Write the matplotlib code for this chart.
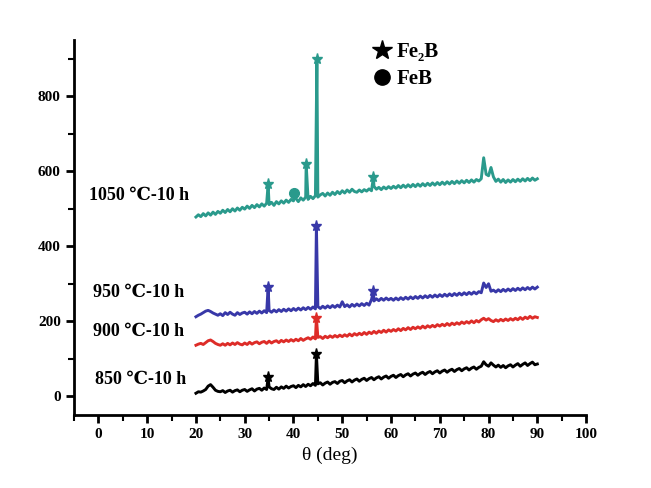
import numpy as np
import matplotlib
matplotlib.use("Agg")
import matplotlib.pyplot as plt
from matplotlib.lines import Line2D

# ── data ─────────────────────────────────────────────────────
THETA = np.arange(20.0, 90.01, 0.5)          # 2-theta sampling grid

Y_850 = [8, 12, 11, 14, 18, 27, 31, 24, 16, 13,
         12, 15, 10, 14, 16, 11, 15, 17, 12, 16,
         18, 13, 17, 20, 14, 19, 21, 16, 22, 18,
         25, 20, 18, 24, 19, 25, 21, 27, 22, 26,
         28, 23, 29, 25, 31, 26, 32, 28, 34, 29,
         33, 36, 30, 35, 38, 32, 37, 39, 34, 40,
         42, 36, 41, 44, 38, 43, 46, 40, 45, 48,
         42, 47, 50, 44, 49, 52, 46, 51, 54, 48,
         53, 56, 50, 55, 58, 52, 57, 60, 54, 59,
         62, 56, 61, 64, 58, 63, 66, 60, 65, 68,
         62, 67, 70, 64, 69, 72, 66, 71, 74, 68,
         73, 76, 70, 75, 78, 72, 77, 80, 92, 84,
         80, 89, 83, 78, 83, 77, 82, 76, 81, 84,
         78, 83, 87, 80, 85, 89, 82, 87, 91, 84,
         86]
Y_900 = [136, 139, 141, 138, 143, 148, 150, 146, 141, 138,
         136, 140, 136, 141, 137, 142, 138, 143, 139, 137,
         142, 138, 144, 139, 143, 145, 140, 144, 146, 141,
         147, 142, 146, 148, 143, 149, 145, 150, 146, 151,
         147, 152, 148, 154, 149, 153, 156, 152, 158, 153,
         157, 159, 154, 160, 156, 161, 157, 162, 158, 163,
         159, 164, 160, 166, 161, 167, 163, 168, 164, 170,
         165, 171, 167, 173, 168, 174, 170, 176, 171, 177,
         173, 178, 174, 180, 175, 181, 177, 183, 178, 184,
         180, 185, 181, 187, 182, 188, 184, 189, 185, 191,
         187, 192, 188, 194, 189, 195, 191, 196, 192, 198,
         194, 199, 195, 201, 196, 202, 198, 204, 208, 203,
         207, 202, 199, 204, 200, 205, 201, 206, 202, 207,
         203, 208, 204, 210, 205, 211, 207, 213, 208, 212,
         210]
Y_950 = [212, 216, 219, 223, 227, 229, 226, 222, 219, 216,
         220, 215, 223, 218, 224, 219, 216, 223, 218, 222,
         224, 219, 225, 220, 226, 221, 227, 222, 228, 223,
         229, 224, 230, 225, 231, 226, 232, 227, 233, 228,
         234, 229, 235, 230, 236, 231, 237, 232, 238, 233,
         239, 234, 240, 235, 241, 236, 242, 237, 243, 238,
         252, 239, 244, 238, 245, 240, 246, 241, 247, 242,
         248, 243, 258, 254, 260, 255, 261, 256, 262, 257,
         261, 256, 262, 257, 263, 258, 264, 259, 265, 260,
         266, 261, 267, 262, 268, 263, 269, 264, 270, 265,
         271, 266, 272, 267, 273, 268, 274, 269, 275, 270,
         276, 271, 277, 272, 278, 273, 279, 276, 302, 290,
         300, 280, 283, 278, 284, 279, 285, 280, 286, 281,
         287, 282, 288, 283, 289, 284, 290, 285, 291, 286,
         291]
Y_1050 = [478, 484, 479, 487, 481, 489, 483, 491, 485, 493,
          488, 496, 490, 498, 492, 500, 494, 502, 496, 504,
          499, 507, 501, 509, 503, 511, 505, 513, 507, 515,
          511, 517, 509, 519, 513, 521, 515, 523, 517, 525,
          521, 527, 519, 529, 523, 531, 525, 533, 527, 535,
          531, 537, 541, 534, 542, 536, 544, 538, 546, 540,
          548, 542, 550, 544, 552, 546, 544, 550, 545, 551,
          547, 553, 548, 560, 552, 557, 551, 558, 553, 559,
          554, 560, 555, 562, 556, 563, 557, 564, 558, 565,
          559, 566, 560, 567, 561, 568, 562, 569, 563, 570,
          564, 571, 565, 572, 566, 573, 567, 574, 568, 575,
          569, 576, 570, 577, 571, 578, 574, 580, 636, 592,
          588, 610, 585, 573, 579, 571, 578, 570, 577, 571,
          578, 572, 579, 573, 580, 574, 581, 575, 582, 576,
          580]

# Fe2B peaks (star) and FeB peaks (circle) per pattern
FE2B_850_X, FE2B_850_Y = [34.8, 44.7], [50, 113]
FE2B_900_X, FE2B_900_Y = [44.7], [210]
FE2B_950_X, FE2B_950_Y = [34.8, 44.7, 56.4], [292, 455, 280]
FE2B_1050_X, FE2B_1050_Y = [34.8, 42.6, 44.8, 56.4], [565, 620, 900, 585]
FEB_1050_X, FEB_1050_Y = [40.2], [542]

LABELS = ["850 ℃-10 h", "900 ℃-10 h", "950 ℃-10 h", "1050 ℃-10 h"]
COLORS = ["#000000", "#dd2c28", "#3838a8", "#2a9a8c"]
LABEL_POS = [(-0.7, 45), (-1.2, 173), (-1.2, 277), (-2.0, 536)]

SERIF = ["Liberation Serif", "DejaVu Serif"]
plt.rcParams["font.family"] = SERIF


def merge(base, px, py):
    x = np.concatenate([THETA, px])
    y = np.concatenate([base, py])
    order = np.argsort(x, kind="stable")
    return x[order], y[order]


fig = plt.figure(figsize=(6.51, 4.88), dpi=100)
ax = fig.add_axes([0.1137, 0.1496, 0.7866, 0.7684])

series = [
    (Y_850, FE2B_850_X, FE2B_850_Y, [], []),
    (Y_900, FE2B_900_X, FE2B_900_Y, [], []),
    (Y_950, FE2B_950_X, FE2B_950_Y, [], []),
    (Y_1050, FE2B_1050_X, FE2B_1050_Y, FEB_1050_X, FEB_1050_Y),
]
for (base, sx, sy, cx, cy), col, lab, pos in zip(series, COLORS, LABELS, LABEL_POS):
    x, y = merge(base, sx + cx, sy + cy)
    ax.plot(x, y, color=col, lw=2.1, solid_joinstyle="round")
    ax.plot(sx, sy, ls="none", marker="*", ms=8, color=col)
    if cx:
        ax.plot(cx, cy, ls="none", marker="o", ms=7, color=col)
    ax.text(pos[0], pos[1], lab, fontsize=13, fontweight="bold",
            ha="left", va="center", family=SERIF)

handles = [Line2D([], [], ls="none", marker="*", ms=15, color="k"),
           Line2D([], [], ls="none", marker="o", ms=11, color="k")]
ax.legend(handles, ["Fe₂B", "FeB"], frameon=False, loc="upper left",
          bbox_to_anchor=(0.545, 1.045), handletextpad=0.2, labelspacing=0.35,
          handlelength=1.0, prop={"family": SERIF, "weight": "bold", "size": 15})

ax.set_xlim(-5, 100)
ax.set_ylim(-50, 950)
ax.set_xticks(np.arange(0, 101, 10))
ax.set_xticks(np.arange(-5, 101, 5), minor=True)
ax.set_yticks([0, 200, 400, 600, 800])
ax.set_yticks(np.arange(0, 951, 100), minor=True)
for s in ["top", "right"]:
    ax.spines[s].set_visible(False)
for s in ["left", "bottom"]:
    ax.spines[s].set_linewidth(2)
ax.tick_params(which="major", direction="out", length=6, width=2, labelsize=11)
ax.tick_params(which="minor", direction="out", length=4, width=1.5)
for t in ax.get_xticklabels() + ax.get_yticklabels():
    t.set_fontweight("bold")
ax.set_xlabel("θ (deg)", fontsize=14, labelpad=4)

fig.savefig("out.png", dpi=100)
